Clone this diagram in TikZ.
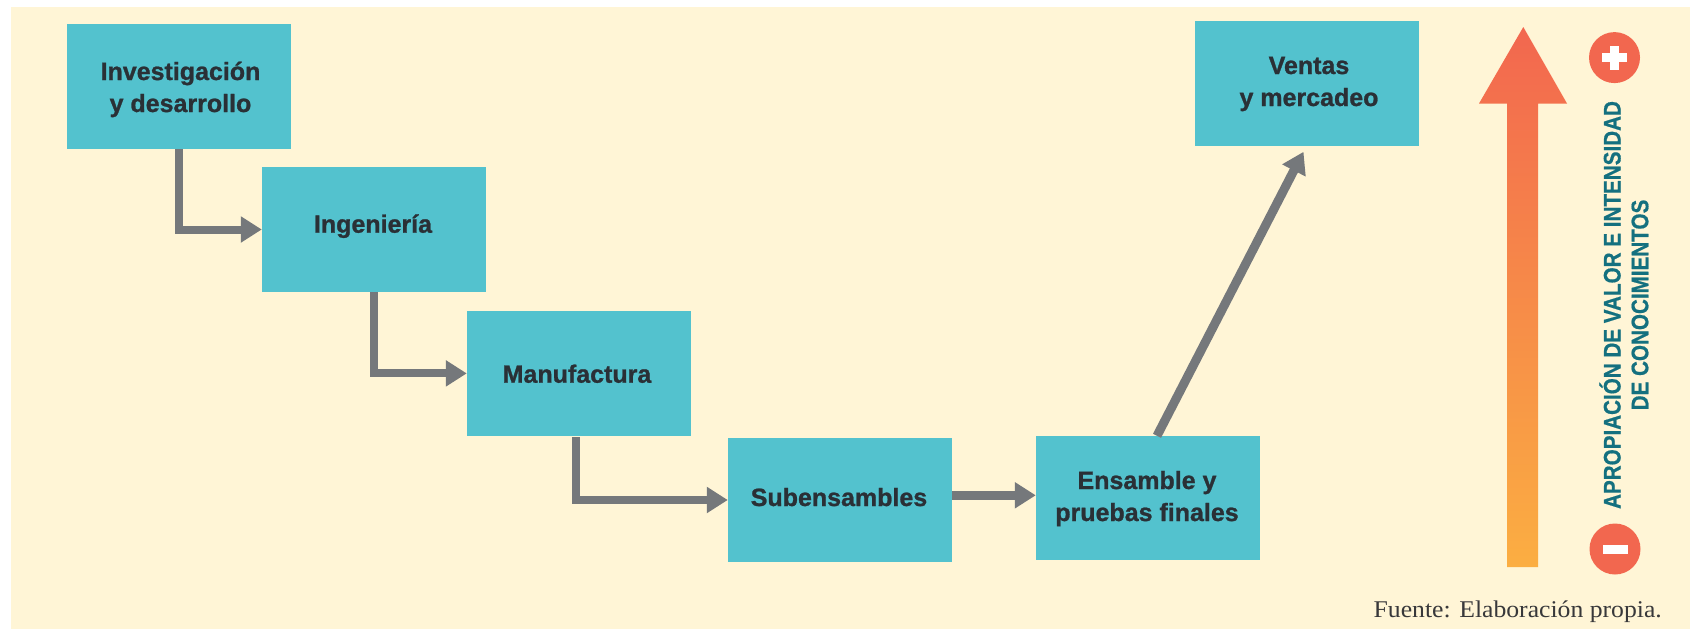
\documentclass[tikz,border=0pt]{standalone}
\usepackage{fontspec}
\usetikzlibrary{arrows.meta}
\setmainfont{Liberation Sans}
\newfontfamily\boxfont[FakeBold=1]{Liberation Sans Bold}
\newfontfamily\sidefont[FakeStretch=0.86,FakeBold=0.6]{Liberation Sans Bold}
\newfontfamily\srcfont[FakeStretch=1.07]{Liberation Serif}
\definecolor{bgcream}{HTML}{FFF5D6}
\definecolor{boxteal}{HTML}{53C2CE}
\definecolor{conngrey}{HTML}{75787B}
\definecolor{boxtext}{HTML}{2A3036}
\definecolor{sidetext}{HTML}{14707F}
\definecolor{srctext}{HTML}{38383A}
\definecolor{coral}{HTML}{F2674F}
\definecolor{amber}{HTML}{FBAE42}
% line of box text, moved by dx,dy without changing the box it occupies
\newcommand\lineat[3]{\raisebox{#2}[18pt][6pt]{\kern#1\relax #3\kern-#1\relax}}
\tikzset{
  stagebox/.style={rectangle,fill=boxteal,inner sep=0pt,align=center,text=boxtext,
    minimum width=224pt,minimum height=125pt,
    font=\boxfont\fontsize{25}{32}\selectfont},
  flow/.style={draw=conngrey,line width=8pt,-{Triangle[length=21pt,width=25pt]}},
  flowthick/.style={flow,line width=9pt},
  sidelabel/.style={rotate=90,text=sidetext,inner sep=0pt,font=\sidefont\fontsize{24}{28}\selectfont},
  badge/.style={circle,fill=coral,inner sep=0pt,minimum size=51pt},
}
\begin{document}
\begin{tikzpicture}[x=1pt,y=-1pt]
\useasboundingbox (0,0) rectangle (1690,629);
\fill[white] (0,0) rectangle (1690,629);
\fill[bgcream] (11,7) rectangle (1690,629);

\node[stagebox] (a) at (179,86.5) {\lineat{1.5pt}{-3.5pt}{Investigación}\\\lineat{1.5pt}{-3.5pt}{y desarrollo}};
\node[stagebox] (b) at (374,229.5) {\lineat{-1pt}{2.8pt}{Ingeniería}};
\node[stagebox] (c) at (579,373.4) {\lineat{-2pt}{-3.3pt}{Manufactura}};
\node[stagebox,minimum height=124pt] (d) at (840,500) {\lineat{-1pt}{0pt}{Subensambles}};
\node[stagebox,minimum height=124pt] (e) at (1148,498) {\lineat{-1pt}{-1pt}{Ensamble y}\\\lineat{-1pt}{-1pt}{pruebas finales}};
\node[stagebox] (f) at (1307,83.3) {\lineat{2pt}{-0.7pt}{Ventas}\\\lineat{2pt}{-0.7pt}{y mercadeo}};

\draw[flow] (a.south) |- (b.west);
\draw[flow] (b.south) |- (c.west);
\draw[flow] ([xshift=-2.7pt,yshift=-1.3pt]c.south) |- (d.west);
\draw[flowthick] ([yshift=4.7pt]d.east) -- ([yshift=2.7pt]e.west);
\coordinate (ftip) at ([xshift=-3.5pt,yshift=-5.8pt]f.south);
\draw[flowthick] ([xshift=9pt]e.north) -- (ftip);

\shade[top color=coral,bottom color=amber]
  (1523.3,27) -- (1567,103.5) -- (1538,103.5) -- (1538,567) -- (1507,567) -- (1507,103.5) -- (1479,103.5) -- cycle;

\node[badge] (plus) at (1614.5,57.6) {};
\fill[white] ([xshift=-12.5pt,yshift=-4.5pt]plus.center) rectangle ([xshift=12.5pt,yshift=4.5pt]plus.center);
\fill[white] ([xshift=-4.3pt,yshift=-12pt]plus.center) rectangle ([xshift=4.3pt,yshift=12pt]plus.center);
\node[badge] (minus) at (1615,549) {};
\fill[white] ([xshift=-12.5pt,yshift=-4.5pt]minus.center) rectangle ([xshift=12.5pt,yshift=4.5pt]minus.center);

\node[sidelabel] (l1) at (1610,305) {APROPIACIÓN DE VALOR E INTENSIDAD};
\node[sidelabel] (l2) at (1640,305) {DE CONOCIMIENTOS};

\node[anchor=base east,inner sep=0pt,text=srctext,font=\srcfont\fontsize{24}{28}\selectfont] (src) at (1662,617) {Fuente: Elaboración propia.};
\end{tikzpicture}
\end{document}
